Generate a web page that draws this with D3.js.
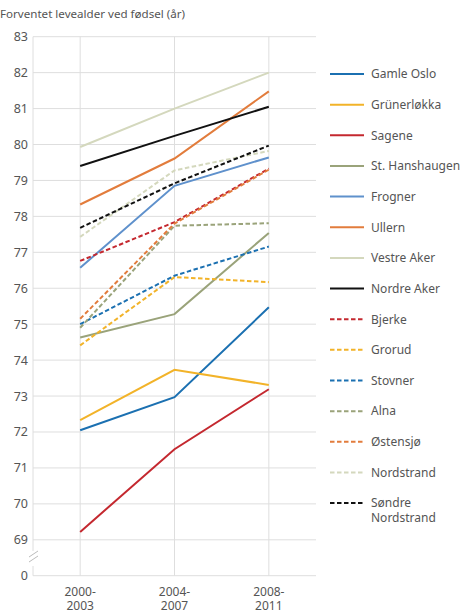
<!DOCTYPE html>
<html lang="no">
<head>
  <meta charset="UTF-8">
  <title>Forventet levealder ved fødsel</title>
  <script src="https://d3js.org/d3.v7.min.js"></script>
  <style>
    body { margin: 0; background: #fff; }
    text { font-family: "Noto Sans", "Open Sans", sans-serif; fill: #555; }
  </style>
</head>
<body>
  <svg width="468" height="613"></svg>

  <script>
    const width = 468;
    const height = 613;

    const periods = ["2000-2003", "2004-2007", "2008-2011"];
    const yTicks = [0, 69, 70, 71, 72, 73, 74, 75, 76, 77, 78, 79, 80, 81, 82, 83];

    const districts = ["Gamle Oslo", "Grünerløkka", "Sagene", "St. Hanshaugen", "Frogner", "Ullern",
      "Vestre Aker", "Nordre Aker", "Bjerke", "Grorud", "Stovner", "Alna", "Østensjø",
      "Nordstrand", "Søndre Nordstrand"];

    const gamleOslo = [72.05, 72.97, 75.47];
    const grunerlokka = [72.33, 73.73, 73.31];
    const sagene = [69.22, 71.52, 73.19];
    const stHanshaugen = [74.63, 75.28, 77.54];
    const frogner = [76.57, 78.85, 79.64];
    const ullern = [78.33, 79.61, 81.48];
    const vestreAker = [79.93, 81.0, 82.0];
    const nordreAker = [79.4, 80.24, 81.05];
    const bjerke = [76.76, 77.84, 79.33];
    const grorud = [74.41, 76.31, 76.17];
    const stovner = [75.0, 76.35, 77.16];
    const alna = [74.9, 77.74, 77.81];
    const ostensjo = [75.15, 77.8, 79.3];
    const nordstrand = [77.43, 79.28, 79.82];
    const sondreNordstrand = [77.68, 78.92, 79.97];

    const seriesValues = [gamleOslo, grunerlokka, sagene, stHanshaugen, frogner, ullern,
      vestreAker, nordreAker, bjerke, grorud, stovner, alna, ostensjo, nordstrand, sondreNordstrand];

    const colors = ["#1b70b1", "#f2b329", "#c4282f", "#9aa37a", "#5f91cc", "#e27c3c",
      "#d4d8bd", "#111111", "#c4282f", "#f2b329", "#1b70b1", "#9aa37a", "#e27c3c",
      "#d4d8bd", "#111111"];

    const svg = d3.select("svg");

    const x = d3.scalePoint()
      .domain(periods)
      .range([33, 316])
      .padding(0.5);

    // broken axis: 0 sits one step below 69
    const y = d3.scaleLinear()
      .domain([0, 69, 83])
      .range([575.7, 539.8, 36.7]);

    // grid
    svg.append("g")
      .selectAll("line")
      .data(yTicks)
      .join("line")
      .attr("x1", 33)
      .attr("x2", 316)
      .attr("y1", d => y(d))
      .attr("y2", d => y(d))
      .attr("stroke", "#dedede")
      .attr("stroke-width", 1);

    svg.append("g")
      .selectAll("line")
      .data(periods)
      .join("line")
      .attr("x1", d => x(d))
      .attr("x2", d => x(d))
      .attr("y1", y(83))
      .attr("y2", y(0))
      .attr("stroke", "#dedede")
      .attr("stroke-width", 1);

    // y axis line with break
    svg.append("line")
      .attr("x1", 33).attr("x2", 33)
      .attr("y1", y(83)).attr("y2", 551)
      .attr("stroke", "#dedede");
    svg.append("line")
      .attr("x1", 33).attr("x2", 33)
      .attr("y1", 566).attr("y2", y(0))
      .attr("stroke", "#dedede");
    [0, 5].forEach(off => {
      svg.append("line")
        .attr("x1", 29).attr("y1", 557 + off)
        .attr("x2", 38).attr("y2", 551 + off)
        .attr("stroke", "#bbb")
        .attr("stroke-width", 1);
    });

    // y tick labels
    svg.append("g")
      .selectAll("text")
      .data(yTicks)
      .join("text")
      .attr("x", 28)
      .attr("y", d => y(d))
      .attr("dy", "0.36em")
      .attr("text-anchor", "end")
      .style("font-size", "12.5px")
      .text(d => d);

    // x labels, two lines
    const xl = svg.append("g")
      .selectAll("text")
      .data(periods)
      .join("text")
      .attr("text-anchor", "middle")
      .style("font-size", "12px");
    xl.append("tspan")
      .attr("x", d => x(d))
      .attr("y", 596)
      .text(d => d.split("-")[0] + "-");
    xl.append("tspan")
      .attr("x", d => x(d))
      .attr("y", 610)
      .text(d => d.split("-")[1]);

    // title
    svg.append("text")
      .attr("x", 0)
      .attr("y", 18)
      .style("font-size", "11.6px")
      .text("Forventet levealder ved fødsel (år)");

    const line = d3.line()
      .x((d, i) => x(periods[i]))
      .y(d => y(d));

    svg.append("g")
      .selectAll("path")
      .data(seriesValues)
      .join("path")
      .attr("d", d => line(d))
      .attr("fill", "none")
      .attr("stroke", (d, i) => colors[i])
      .attr("stroke-width", 2)
      .attr("stroke-dasharray", (d, i) => i >= 8 ? "4.5,2.5" : null);

    // legend
    const legend = svg.append("g")
      .selectAll("g")
      .data(districts)
      .join("g")
      .attr("transform", (d, i) => `translate(0,${74 + i * 30.65})`);

    legend.append("line")
      .attr("x1", 330)
      .attr("x2", 364)
      .attr("stroke", (d, i) => colors[i])
      .attr("stroke-width", 2)
      .attr("stroke-dasharray", (d, i) => i >= 8 ? "4.5,2.5" : null);

    legend.append("text")
      .attr("x", 371)
      .attr("dy", "0.36em")
      .style("font-size", "12px")
      .each(function(d) {
        const parts = d === "Søndre Nordstrand" ? ["Søndre", "Nordstrand"] : [d];
        d3.select(this).selectAll("tspan")
          .data(parts)
          .join("tspan")
          .attr("x", 371)
          .attr("dy", (p, j) => j === 0 ? "0.36em" : "1.2em")
          .text(p => p);
      });
  </script>
</body>
</html>
